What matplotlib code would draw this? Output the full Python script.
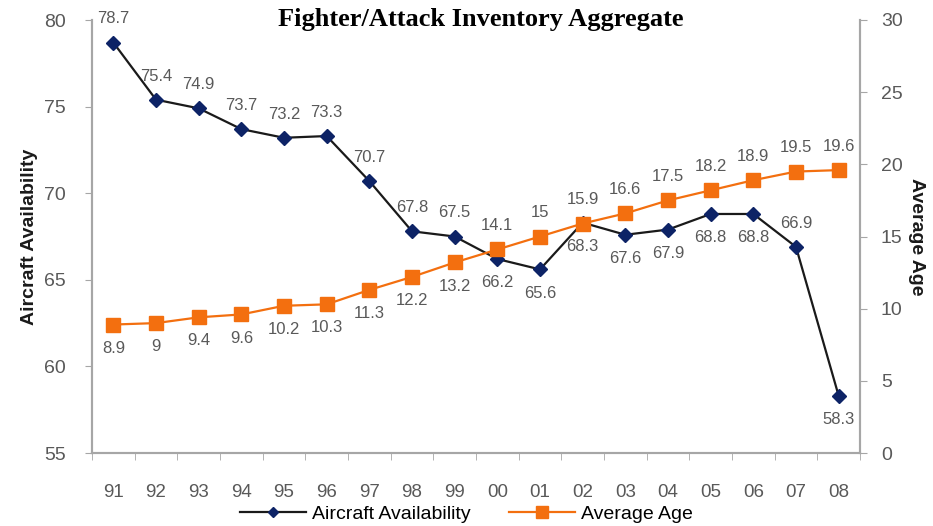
import numpy as np
import matplotlib.pyplot as plt

# data
years = ["91", "92", "93", "94", "95", "96", "97", "98", "99",
         "00", "01", "02", "03", "04", "05", "06", "07", "08"]
availability = [78.7, 75.4, 74.9, 73.7, 73.2, 73.3, 70.7, 67.8, 67.5,
                66.2, 65.6, 68.3, 67.6, 67.9, 68.8, 68.8, 66.9, 58.3]
avg_age = [8.9, 9, 9.4, 9.6, 10.2, 10.3, 11.3, 12.2, 13.2,
           14.1, 15, 15.9, 16.6, 17.5, 18.2, 18.9, 19.5, 19.6]
# label above (1) or below (-1) each point
avail_side = [1, 1, 1, 1, 1, 1, 1, 1, 1, -1, -1, -1, -1, -1, -1, -1, 1, -1]
age_side = [-1, -1, -1, -1, -1, -1, -1, -1, -1, 1, 1, 1, 1, 1, 1, 1, 1, 1]

plt.rcParams['font.family'] = ['Liberation Sans', 'DejaVu Sans']

spine_col = '#a6a6a6'
text_col = '#595959'
navy = '#0d2366'
orange = '#f36f0f'

fig = plt.figure(figsize=(9.33, 5.26), dpi=100)
ax = fig.add_axes([92 / 933, 73 / 526, 768 / 933, 433 / 526])
ax2 = ax.twinx()

x = np.arange(len(years))

ax.plot(x, availability, color='#1a1a1a', lw=1.6, marker='D', ms=7,
        mfc=navy, mec=navy, zorder=3, label='Aircraft Availability')
ax2.plot(x, avg_age, color=orange, lw=1.6, marker='s', ms=10,
         mfc=orange, mec=orange, zorder=3, label='Average Age')

# data labels
for i, v in enumerate(availability):
    ax.annotate(f"{v:g}", (x[i], v), xytext=(0, 17 * avail_side[i]),
                textcoords='offset points', ha='center', va='center',
                fontsize=12, color=text_col)
for i, v in enumerate(avg_age):
    ax2.annotate(f"{v:g}", (x[i], v), xytext=(0, 17 * age_side[i]),
                 textcoords='offset points', ha='center', va='center',
                 fontsize=12, color=text_col)

# axes limits and ticks
ax.set_xlim(-0.5, len(years) - 0.5)
ax.set_ylim(55, 80)
ax.set_yticks(np.arange(55, 81, 5))
ax2.set_ylim(0, 30)
ax2.set_yticks(np.arange(0, 31, 5))

ax.set_xticks(x)
ax.set_xticklabels(years)
ax.set_xticks(np.arange(-0.5, len(years), 1), minor=True)
ax.tick_params(axis='x', which='major', length=0, pad=22,
               labelsize=13.5, labelcolor=text_col)
ax.tick_params(axis='x', which='minor', length=5, color=spine_col)
ax.tick_params(axis='y', length=5, color=spine_col, pad=14,
               labelsize=14, labelcolor=text_col)
ax2.tick_params(axis='y', length=5, color=spine_col, pad=10,
                labelsize=14, labelcolor=text_col)

for a in (ax, ax2):
    a.spines['top'].set_visible(False)
    for s in ('left', 'right', 'bottom'):
        a.spines[s].set_color(spine_col)
        a.spines[s].set_linewidth(1.5)

ax.set_ylabel('Aircraft Availability', fontsize=14, fontweight='bold',
              color='#1a1a1a', labelpad=4)
ax2.set_ylabel('Average Age', fontsize=14, fontweight='bold',
               color='#1a1a1a', rotation=-90, labelpad=16)

fig.suptitle('Fighter/Attack Inventory Aggregate', x=0.515, y=0.985,
             fontsize=19, fontweight='bold', family='Liberation Serif')

h1, l1 = ax.get_legend_handles_labels()
h2, l2 = ax2.get_legend_handles_labels()
fig.legend(h1 + h2, l1 + l2, loc='lower center', bbox_to_anchor=(0.5, 0.0),
           ncol=2, frameon=False, fontsize=14, handlelength=3.4,
           columnspacing=2.0, handletextpad=0.3, markerscale=0.8,
           borderpad=0.0, borderaxespad=0.15)

fig.savefig('out.png', dpi=100)
